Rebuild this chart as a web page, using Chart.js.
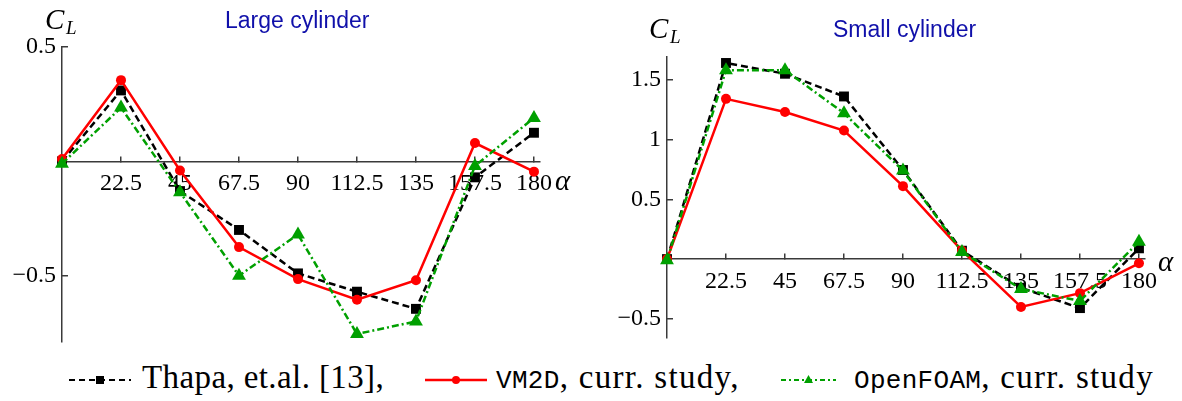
<!DOCTYPE html>
<html>
<head>
<meta charset="utf-8">
<script src="https://cdn.jsdelivr.net/npm/chart.js@4"></script>
<style>
  body { margin: 0; background: #fff; width: 1182px; height: 401px; position: relative; overflow: hidden; }
  .box { position: absolute; top: 0; height: 350px; }
  .lg { position: absolute; top: 361px; font-family: "Liberation Serif", serif; font-size: 33px; line-height: 33px; letter-spacing: 0.4px; white-space: nowrap; color: #000; }
  .tt { font-family: "Liberation Mono", monospace; font-size: 26px; letter-spacing: 0.3px; }
  .wide { letter-spacing: 1.3px; }
  .sw { position: absolute; top: 370px; }
</style>
</head>
<body>
<div class="box" style="left:0; width:590px"><canvas id="largeChart"></canvas></div>
<div class="box" style="left:590px; width:592px"><canvas id="smallChart"></canvas></div>

<svg class="sw" style="left:69px" width="62" height="20">
  <line x1="0" y1="10" x2="62" y2="10" stroke="#000" stroke-width="2" stroke-dasharray="6,4"/>
  <rect x="27" y="6" width="8" height="8" fill="#000"/>
</svg>
<span class="lg" style="left:142px">Thapa, et.al. [13],</span>
<svg class="sw" style="left:425px" width="62" height="20">
  <line x1="0" y1="10" x2="62" y2="10" stroke="#f00" stroke-width="2.5"/>
  <circle cx="31" cy="10" r="4" fill="#f00"/>
</svg>
<span class="lg" style="left:496px"><span class="tt">VM2D</span><span class="wide">, curr. study,</span></span>
<svg class="sw" style="left:781px" width="55" height="20">
  <line x1="0" y1="10" x2="55" y2="10" stroke="#00a000" stroke-width="2" stroke-dasharray="5,3,2,3"/>
  <polygon points="27.5,5 32,13 23,13" fill="#00a000"/>
</svg>
<span class="lg" style="left:854px"><span class="tt">OpenFOAM</span><span class="wide">, curr. study</span></span>

<script>
// angle of attack, degrees
const alphaDeg = [0, 22.5, 45, 67.5, 90, 112.5, 135, 157.5, 180];

// lift coefficient, large cylinder
const largeThapa = [0, 0.31, -0.13, -0.30, -0.49, -0.57, -0.645, -0.07, 0.125];
const largeVM2D = [0.01, 0.355, -0.04, -0.375, -0.515, -0.605, -0.52, 0.08, -0.045];
const largeOpenFOAM = [-0.01, 0.235, -0.135, -0.50, -0.32, -0.755, -0.70, -0.02, 0.19];

// lift coefficient, small cylinder
const smallThapa = [0, 1.64, 1.55, 1.36, 0.745, 0.07, -0.24, -0.41, 0.09];
const smallVM2D = [0, 1.34, 1.23, 1.075, 0.61, 0.07, -0.40, -0.285, -0.035];
const smallOpenFOAM = [-0.01, 1.58, 1.58, 1.22, 0.74, 0.06, -0.25, -0.35, 0.145];

// tick values
const xTicks = [0, 22.5, 45, 67.5, 90, 112.5, 135, 157.5, 180];
const largeYTicks = [-0.5, 0.5];
const smallYTicks = [-0.5, 0.5, 1, 1.5];

const axisColor = '#3a3a3a';
const tickFont = { family: '"Liberation Serif", serif', size: 24 };

const toPoints = (ys) => ys.map((y, i) => ({ x: alphaDeg[i], y: y }));

// axis names and panel title drawn straight on the canvas
const textPlugin = {
  id: 'panelText',
  afterDraw(chart, args, opts) {
    const ctx = chart.ctx;
    ctx.save();
    ctx.textBaseline = 'alphabetic';
    ctx.textAlign = 'left';
    ctx.fillStyle = '#000';
    ctx.font = 'italic 29px "Liberation Serif", serif';
    ctx.fillText('C', opts.cl[0], opts.cl[1]);
    ctx.font = 'italic 19px "Liberation Serif", serif';
    ctx.fillText('L', opts.cl[0] + 21, opts.cl[1] + 5);
    ctx.font = 'italic 29px "Liberation Serif", serif';
    ctx.fillText('\u03b1', opts.alpha[0], opts.alpha[1]);
    ctx.font = '23px "Liberation Sans", Arial, sans-serif';
    ctx.fillStyle = '#1010aa';
    ctx.fillText(opts.title, opts.titlePos[0], opts.titlePos[1]);
    ctx.restore();
  }
};

function makeChart(id, thapa, vm2d, openfoam, yMin, yMax, yTicks, textOpts) {
  return new Chart(document.getElementById(id), {
    type: 'line',
    data: {
      datasets: [
        {
          label: 'Thapa, et.al. [13]',
          data: toPoints(thapa),
          borderColor: '#000',
          backgroundColor: '#000',
          borderWidth: 2.5,
          borderDash: [7, 4],
          pointStyle: 'rect',
          pointRadius: 7,
          pointBorderWidth: 0,
          clip: false,
          order: 2
        },
        {
          label: 'VM2D, curr. study',
          data: toPoints(vm2d),
          borderColor: '#ff0000',
          backgroundColor: '#ff0000',
          borderWidth: 2.5,
          pointStyle: 'circle',
          pointRadius: 5,
          pointBorderWidth: 0,
          clip: false,
          order: 1
        },
        {
          label: 'OpenFOAM, curr. study',
          data: toPoints(openfoam),
          borderColor: '#00a000',
          backgroundColor: '#00a000',
          borderWidth: 2.5,
          borderDash: [7, 3, 2, 3],
          pointStyle: 'triangle',
          pointRadius: 8,
          pointBorderWidth: 0,
          clip: false,
          order: 0
        }
      ]
    },
    options: {
      responsive: true,
      maintainAspectRatio: false,
      animation: false,
      layout: { padding: textOpts.pad },
      plugins: {
        legend: { display: false },
        tooltip: { enabled: false },
        panelText: textOpts
      },
      scales: {
        x: {
          type: 'linear',
          position: { y: 0 },
          min: 0,
          max: 182.3,
          afterBuildTicks: (scale) => { scale.ticks = xTicks.map(v => ({ value: v })); },
          afterFit: (scale) => { scale.height = 0; },
          ticks: {
            font: tickFont,
            color: '#000',
            padding: 14,
            maxRotation: 0,
            autoSkip: false,
            callback: (v) => v === 0 ? '' : String(v)
          },
          grid: { drawOnChartArea: false, drawTicks: true, tickLength: -6, color: axisColor, lineWidth: 1.5 },
          border: { color: axisColor, width: 1.5 }
        },
        y: {
          min: yMin,
          max: yMax,
          afterBuildTicks: (scale) => { scale.ticks = yTicks.map(v => ({ value: v })); },
          afterFit: (scale) => {
            scale.width = 62;
            // labels never sit at the very ends, so no extra room is needed there
            scale.paddingTop = 0;
            scale.paddingBottom = 0;
          },
          ticks: {
            font: tickFont,
            color: '#000',
            padding: 12,
            callback: (v) => (v < 0 ? '\u2212' + String(-v) : String(v))
          },
          grid: { drawOnChartArea: false, drawTicks: true, tickLength: -6, color: axisColor, lineWidth: 1.5 },
          border: { color: axisColor, width: 1.5 }
        }
      }
    },
    plugins: [textPlugin]
  });
}

makeChart('largeChart', largeThapa, largeVM2D, largeOpenFOAM, -0.79, 0.5, largeYTicks, {
  pad: { top: 47, bottom: 6, left: 0, right: 50 },
  cl: [45, 29], alpha: [555, 190], title: 'Large cylinder', titlePos: [225, 28]
});
makeChart('smallChart', smallThapa, smallVM2D, smallOpenFOAM, -0.66, 1.69, smallYTicks, {
  pad: { top: 57, bottom: 12, left: 15, right: 37 },
  cl: [59, 38], alpha: [568, 271], title: 'Small cylinder', titlePos: [243, 37]
});
</script>
</body>
</html>
